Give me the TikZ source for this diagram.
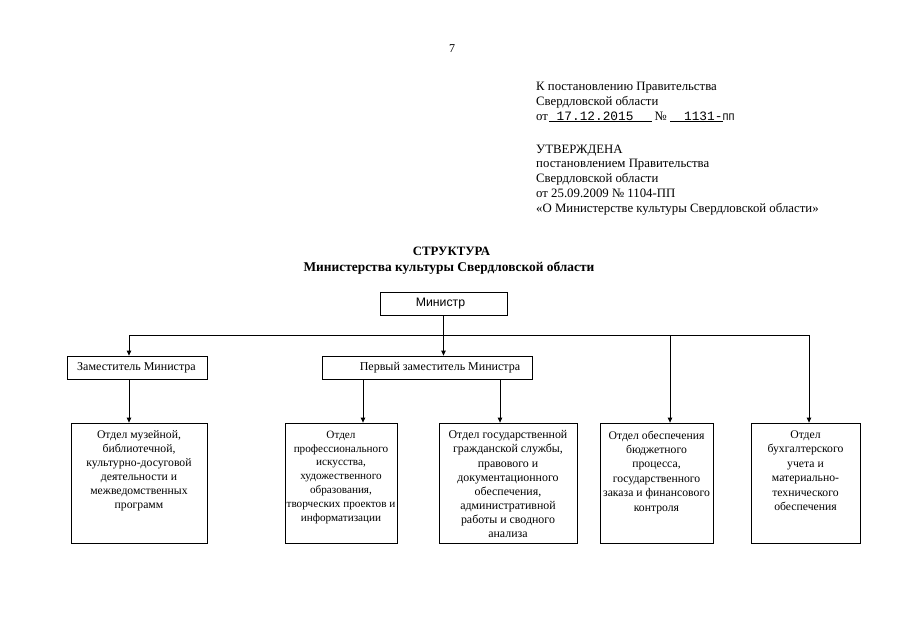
\documentclass[tikz,border=0pt]{standalone}
\usepackage{fontspec}
\setmainfont{Liberation Serif}
\newfontfamily\sansf{Liberation Sans}
\newfontfamily\monof{Liberation Mono}
\usetikzlibrary{arrows.meta}
\begin{document}
\begin{tikzpicture}[x=1pt,y=-1pt,
  box/.style={draw, line width=0.8pt, inner sep=0pt},
  btxt/.style={font=\fontsize{11.7}{14.4}\selectfont, align=center, inner sep=0pt, anchor=north},
  htxt/.style={font=\fontsize{12.8}{14.8}\selectfont, align=left, inner sep=0pt, anchor=base west},
  ttl/.style={font=\fontsize{13}{15}\selectfont\bfseries, inner sep=0pt, anchor=base},
  conn/.style={line width=0.8pt},
  arr/.style={line width=0.8pt, -{Triangle[length=5pt,width=4.5pt]}}]
\useasboundingbox (0,0) rectangle (905,640);
\fill[white] (0,0) rectangle (905,640);

% page number
\node[ttl, font=\fontsize{12}{14}\selectfont] (pnum) at (452,52) {7};

% header
\node[htxt] (h1) at (536,90) {К постановлению Правительства};
\node[htxt] (h2) at (536,105) {Свердловской области};
\node[htxt] (h3) at (536,120) {от\hspace{1pt}\underline{\monof\ 17.12.2015\hspace{18pt}} № \underline{\hspace{14pt}\monof 1131-}{\monof\fontsize{10}{12}\selectfont ПП}};
\node[htxt] (h4) at (536,153) {УТВЕРЖДЕНА};
\node[htxt] (h5) at (536,167.5) {постановлением Правительства};
\node[htxt] (h6) at (536,182) {Свердловской области};
\node[htxt] (h7) at (536,197) {от 25.09.2009 № 1104-ПП};
\node[htxt] (h8) at (536,212) {«О Министерстве культуры Свердловской области»};

% title
\node[ttl, font=\fontsize{12.8}{15}\selectfont\bfseries] (t1) at (451.5,255) {СТРУКТУРА};
\node[ttl, font=\fontsize{13.4}{15}\selectfont\bfseries] (t2) at (449,271) {Министерства культуры Свердловской области};

% top boxes
\node[box, minimum width=127pt, minimum height=23pt] (min) at (443.5,303.5) {};
\node[font=\sansf\fontsize{12.3}{14}\selectfont, inner sep=0pt] (mint) at (440.5,303.5) {Министр};
\node[box, minimum width=140pt, minimum height=23pt] (zam) at (137,367.5) {};
\node[font=\fontsize{12}{14}\selectfont, inner sep=0pt] (zamt) at (136.5,367.5) {Заместитель Министра};
\node[box, minimum width=210pt, minimum height=23pt] (first) at (427,367.5) {};
\node[font=\fontsize{12}{14}\selectfont, inner sep=0pt] (firstt) at (440,367.5) {Первый заместитель Министра};

% bottom boxes
\node[box, minimum width=136pt, minimum height=120pt] (b1) at (139,483) {};
\node[box, minimum width=112pt, minimum height=120pt] (b2) at (341,483) {};
\node[box, minimum width=138pt, minimum height=120pt] (b3) at (508,483) {};
\node[box, minimum width=113pt, minimum height=120pt] (b4) at (656.5,483) {};
\node[box, minimum width=109pt, minimum height=120pt] (b5) at (805.5,483) {};

\node[btxt, font=\fontsize{11.7}{14}\selectfont] (b1t) at (139,430.5) {Отдел музейной,\\библиотечной,\\культурно-досуговой\\деятельности и\\межведомственных\\программ};
\node[btxt, font=\fontsize{11.2}{13.9}\selectfont] (b2t) at (341,430.5) {Отдел\\профессионального\\искусства,\\художественного\\образования,\\творческих проектов и\\информатизации};
\node[btxt, font=\fontsize{11.9}{14.1}\selectfont] (b3t) at (508,430.5) {Отдел государственной\\гражданской службы,\\правового и\\документационного\\обеспечения,\\административной\\работы и сводного\\анализа};
\node[btxt] (b4t) at (656.5,430.5) {Отдел обеспечения\\бюджетного\\процесса,\\государственного\\заказа и финансового\\контроля};
\node[btxt] (b5t) at (805.5,430.5) {Отдел\\бухгалтерского\\учета и\\материально-\\технического\\обеспечения};

% connectors
\coordinate (busL) at (129,335);
\coordinate (busR) at (809,335);
\coordinate (bus4) at (670,335);
\coordinate (x2) at (363,0);
\coordinate (x3) at (500,0);
\draw[conn] (busL) -- (busR);
\draw[arr] (min.south) -- (min.south |- first.north);
\draw[arr] (busL) -- (busL |- zam.north);
\draw[arr] (bus4) -- (bus4 |- b4.north);
\draw[arr] (busR) -- (busR |- b5.north);
\draw[arr] (busL |- zam.south) -- (busL |- b1.north);
\draw[arr] (x2 |- first.south) -- (x2 |- b2.north);
\draw[arr] (x3 |- first.south) -- (x3 |- b3.north);
\end{tikzpicture}
\end{document}
